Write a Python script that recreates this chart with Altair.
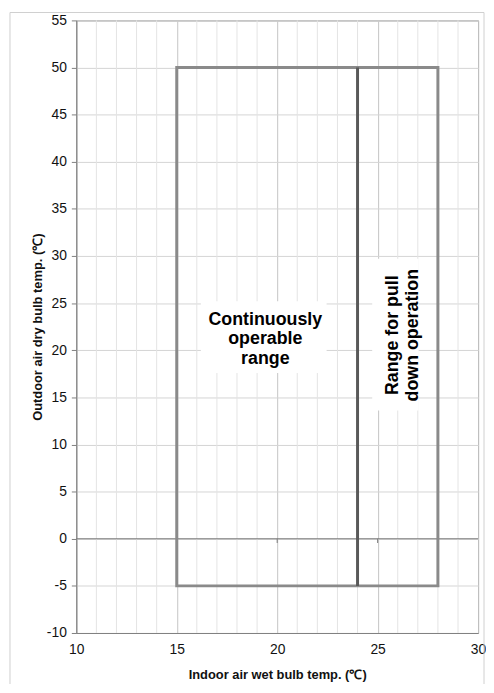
import altair as alt
import pandas as pd

# ---- data ----
x_min, x_max = 10, 30
y_min, y_max = -10, 55
minor_x = [v for v in range(10, 31) if v % 5 != 0]
zero_tick_x = [15, 20, 25]

# operating range rectangle
range_x = [15]
range_x2 = [28]
range_y = [-5]
range_y2 = [50]

# pull-down boundary line
pull_x = [24]
pull_y = [-5]
pull_y2 = [50]

# label boxes (white backgrounds) and labels
box_x = [16.2, 24.73]
box_x2 = [22.46, 27.04]
box_y = [17.6, 13.6]
box_y2 = [25.2, 29.7]

label_text = ["Continuously\noperable\nrange", "Range for pull\ndown operation"]
label_x = [19.41, 25.78]
label_y = [23.2, 21.6]
label_angle = [0, 270]

FONT = "Liberation Sans"

xs = alt.Scale(domain=[x_min, x_max], nice=False, zero=False)
ys = alt.Scale(domain=[y_min, y_max], nice=False, zero=False)

one = pd.DataFrame({"a": [0]})

# outer frame (decoration)
frame_left = alt.Chart(one).mark_rule(color="#cfcfcf", strokeWidth=1).encode(
    x=alt.value(-67), y=alt.value(-8), y2=alt.value(700))
frame_top = alt.Chart(one).mark_rule(color="#cfcfcf", strokeWidth=1).encode(
    x=alt.value(-67), x2=alt.value(412), y=alt.value(-8))
frame_right = alt.Chart(one).mark_rule(color="#cfcfcf", strokeWidth=1).encode(
    x=alt.value(412), y=alt.value(-8), y2=alt.value(700))

base_axes = alt.Chart(pd.DataFrame({"x": [x_min, x_max], "y": [y_min, y_max]})).mark_point(opacity=0).encode(
    x=alt.X("x:Q", scale=xs,
            axis=alt.Axis(title="Indoor air wet bulb temp.  (℃)", values=list(range(10, 31, 5)),
                          labelExpr="'' + datum.value", labelFlush=False,
                          grid=True, gridColor="#c4c4c4", ticks=False, tickSize=0,
                          domainColor="#808080", labelPadding=10, titlePadding=12,
                          labelFont=FONT, labelFontSize=14, labelColor="#111",
                          titleFont=FONT, titleFontSize=13, titleFontWeight="bold", titleColor="#111")),
    y=alt.Y("y:Q", scale=ys,
            axis=alt.Axis(title="Outdoor air dry bulb temp. (℃)", values=list(range(-10, 56, 5)),
                          labelExpr="'' + datum.value", labelFlush=False,
                          grid=True, gridColor="#d4d4d4", ticks=True, tickSize=5, tickColor="#808080",
                          domainColor="#808080", labelPadding=5, titlePadding=2,
                          labelFont=FONT, labelFontSize=14, labelColor="#111",
                          titleFont=FONT, titleFontSize=13, titleFontWeight="bold", titleColor="#111")),
)

minor = alt.Chart(pd.DataFrame({"x": minor_x})).mark_rule(color="#e4e4e4", strokeWidth=1).encode(
    x=alt.X("x:Q", scale=xs))

zero_line = alt.Chart(pd.DataFrame({"y": [0]})).mark_rule(color="#7a7a7a", strokeWidth=1).encode(
    y=alt.Y("y:Q", scale=ys))

zero_ticks = alt.Chart(pd.DataFrame({"x": zero_tick_x, "y": [0] * 3, "y2": [-0.45] * 3})).mark_rule(
    color="#7a7a7a", strokeWidth=1).encode(
    x=alt.X("x:Q", scale=xs), y=alt.Y("y:Q", scale=ys), y2="y2:Q")

boxes = alt.Chart(pd.DataFrame({"x": box_x, "x2": box_x2, "y": box_y, "y2": box_y2})).mark_rect(
    color="white").encode(
    x=alt.X("x:Q", scale=xs), x2="x2:Q", y=alt.Y("y:Q", scale=ys), y2="y2:Q")

rect = alt.Chart(pd.DataFrame({"x": range_x, "x2": range_x2, "y": range_y, "y2": range_y2})).mark_rect(
    fillOpacity=0, stroke="#8a8a8a", strokeWidth=3).encode(
    x=alt.X("x:Q", scale=xs), x2="x2:Q", y=alt.Y("y:Q", scale=ys), y2="y2:Q")

pull = alt.Chart(pd.DataFrame({"x": pull_x, "y": pull_y, "y2": pull_y2})).mark_rule(
    color="#595959", strokeWidth=3).encode(
    x=alt.X("x:Q", scale=xs), y=alt.Y("y:Q", scale=ys), y2="y2:Q")

lab_df = pd.DataFrame({"t": label_text, "x": label_x, "y": label_y, "ang": label_angle})
labels = alt.Chart(lab_df).mark_text(
    font=FONT, fontSize=18, fontWeight="bold", color="#000", lineBreak="\n", lineHeight=19.5,
    align="center", baseline="middle").encode(
    x=alt.X("x:Q", scale=xs), y=alt.Y("y:Q", scale=ys), text="t:N",
    angle=alt.Angle("ang:Q", scale=None))

chart = alt.layer(
    base_axes, minor, zero_line, zero_ticks, boxes, rect, pull, labels,
    frame_left, frame_top, frame_right
).properties(
    width=406, height=619,
    autosize=alt.AutoSizeParams(type="none"),
    padding={"left": 69, "top": 9, "right": 8, "bottom": 48},
).configure_view(stroke="#808080", strokeWidth=1)

chart.save("out.html", embed_options={"renderer": "svg", "actions": False})
